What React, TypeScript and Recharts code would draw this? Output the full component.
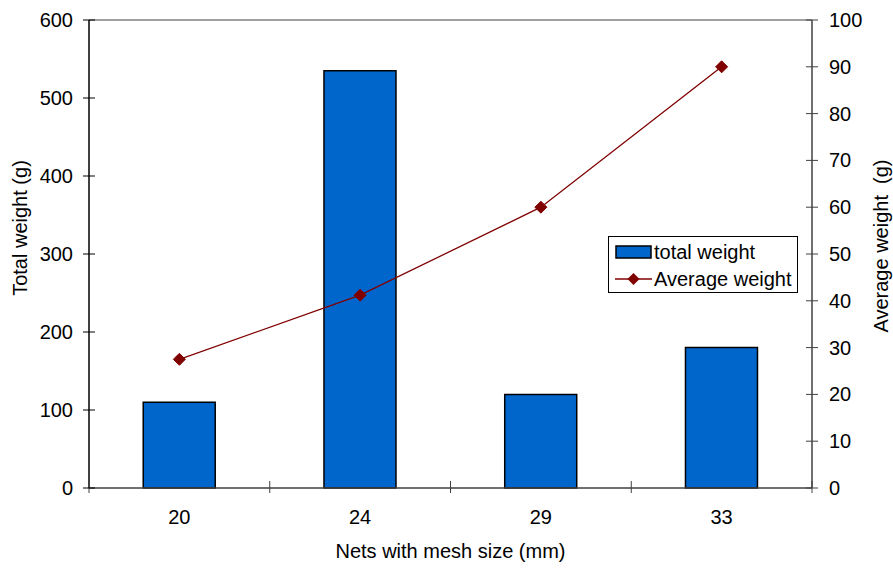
import React from 'react';
import { ComposedChart, Bar, Line, XAxis, YAxis, Legend, ReferenceLine, Label } from 'recharts';

const categories = ['20', '24', '29', '33'];
const totalWeight = [110, 535, 120, 180];
const averageWeight = [27.5, 41.2, 60, 90];
const leftTicks = [0, 100, 200, 300, 400, 500, 600];
const rightTicks = [0, 10, 20, 30, 40, 50, 60, 70, 80, 90, 100];

const data = categories.map((c, i) => ({ mesh: c, total: totalWeight[i], avg: averageWeight[i] }));

const FONT = '"Liberation Sans", Arial, sans-serif';
const FS = 20;
const BAR_COLOR = '#0066CC';
const LINE_COLOR = '#800000';

const LeftTick = (props: any) => {
  const { x, y, payload } = props;
  return (
    <g>
      <line x1={x - 6} x2={x + 6} y1={y} y2={y} stroke="#000" strokeWidth={1} />
      <text x={x - 16} y={y} textAnchor="end" dominantBaseline="central" fontFamily={FONT} fontSize={FS} fill="#000">
        {payload.value}
      </text>
    </g>
  );
};

const RightTick = (props: any) => {
  const { x, y, payload } = props;
  return (
    <g>
      <line x1={x - 6} x2={x + 6} y1={y} y2={y} stroke="#404040" strokeWidth={1} />
      <text x={x + 17} y={y} textAnchor="start" dominantBaseline="central" fontFamily={FONT} fontSize={FS} fill="#000">
        {payload.value}
      </text>
    </g>
  );
};

const XTick = (props: any) => {
  const { x, y, payload, index, visibleTicksCount } = props;
  const half = payload && typeof payload.offset === 'number' && payload.offset > 0 ? payload.offset : 90.375;
  const isLast = index === (visibleTicksCount ?? categories.length) - 1;
  return (
    <g>
      <line x1={x - half} x2={x - half} y1={y - 7} y2={y + 5} stroke="#404040" strokeWidth={1} />
      {isLast && <line x1={x + half} x2={x + half} y1={y - 7} y2={y + 5} stroke="#404040" strokeWidth={1} />}
      <text x={x} y={y + 29} textAnchor="middle" dominantBaseline="central" fontFamily={FONT} fontSize={FS} fill="#000">
        {payload.value}
      </text>
    </g>
  );
};

const Diamond = (props: any) => {
  const { cx, cy } = props;
  if (cx == null || cy == null) return null;
  const r = 6;
  return (
    <polygon
      points={`${cx},${cy - r} ${cx + r},${cy} ${cx},${cy + r} ${cx - r},${cy}`}
      fill={LINE_COLOR}
      stroke={LINE_COLOR}
      strokeWidth={1}
    />
  );
};

const LegendContent = () => (
  <div
    style={{
      width: 188,
      height: 55,
      border: '1px solid #000',
      background: '#fff',
      fontFamily: FONT,
      fontSize: FS,
      color: '#000',
      boxSizing: 'content-box',
      position: 'relative',
    }}
  >
    <div style={{ position: 'absolute', left: 6, top: 3, height: 24, display: 'flex', alignItems: 'center' }}>
      <svg width={37} height={14} style={{ display: 'block' }}>
        <rect x={1} y={1} width={35} height={12} fill={BAR_COLOR} stroke="#000" strokeWidth={1.5} />
      </svg>
      <span style={{ marginLeft: 2, whiteSpace: 'nowrap' }}>total weight</span>
    </div>
    <div style={{ position: 'absolute', left: 6, top: 30, height: 24, display: 'flex', alignItems: 'center' }}>
      <svg width={37} height={14} style={{ display: 'block' }}>
        <line x1={0} x2={37} y1={7} y2={7} stroke={LINE_COLOR} strokeWidth={1.5} />
        <polygon points="18.5,1 24.5,7 18.5,13 12.5,7" fill={LINE_COLOR} />
      </svg>
      <span style={{ marginLeft: 2, whiteSpace: 'nowrap' }}>Average weight</span>
    </div>
  </div>
);

const LeftLabel = (props: any) => {
  const vb = props.viewBox || { x: 0, y: 20, width: 89, height: 468 };
  const cx = vb.x + 20;
  const cy = vb.y + 208;
  return (
    <text x={cx} y={cy} transform={`rotate(-90 ${cx} ${cy})`} textAnchor="middle" dominantBaseline="central" fontFamily={FONT} fontSize={FS} fill="#000">
      Total weight (g)
    </text>
  );
};

const RightLabel = (props: any) => {
  const vb = props.viewBox || { x: 812, y: 20, width: 81, height: 468 };
  const cx = vb.x + 69;
  const cy = vb.y + 226;
  return (
    <text x={cx} y={cy} transform={`rotate(-90 ${cx} ${cy})`} textAnchor="middle" dominantBaseline="central" fontFamily={FONT} fontSize={FS} fill="#000" style={{ whiteSpace: 'pre' }}>
      {'Average weight\u00A0 (g)'}
    </text>
  );
};

const BottomLabel = (props: any) => {
  const vb = props.viewBox || { x: 89, y: 488, width: 723, height: 80 };
  const cx = vb.x + vb.width / 2;
  const cy = vb.y + 63;
  return (
    <text x={cx} y={cy} textAnchor="middle" dominantBaseline="central" fontFamily={FONT} fontSize={FS} fill="#000">
      Nets with mesh size (mm)
    </text>
  );
};

export default function App() {
  return (
    <div style={{ position: 'absolute', left: 0, top: 0, width: 893, height: 568, background: '#fff' }}>
      <ComposedChart
        width={893}
        height={568}
        data={data}
        margin={{ top: 20, right: 0, bottom: 0, left: 0 }}
        barCategoryGap="30%"
      >
        <XAxis
          dataKey="mesh"
          height={80}
          interval={0}
          tickSize={0}
          tickMargin={0}
          tickLine={false}
          axisLine={{ stroke: '#404040', strokeWidth: 1.5 }}
          tick={<XTick />}
        >
          <Label content={<BottomLabel />} />
        </XAxis>
        <YAxis
          yAxisId="left"
          width={89}
          domain={[0, 600]}
          ticks={leftTicks}
          interval={0}
          tickSize={0}
          tickMargin={0}
          tickLine={false}
          axisLine={{ stroke: '#000', strokeWidth: 1.5 }}
          tick={<LeftTick />}
        >
          <Label content={<LeftLabel />} />
        </YAxis>
        <YAxis
          yAxisId="right"
          orientation="right"
          width={81}
          domain={[0, 100]}
          ticks={rightTicks}
          interval={0}
          tickSize={0}
          tickMargin={0}
          tickLine={false}
          axisLine={{ stroke: '#404040', strokeWidth: 1.5 }}
          tick={<RightTick />}
        >
          <Label content={<RightLabel />} />
        </YAxis>
        <ReferenceLine yAxisId="left" y={600} stroke="#808080" strokeWidth={1.5} />
        <Bar
          yAxisId="left"
          dataKey="total"
          name="total weight"
          fill={BAR_COLOR}
          stroke="#000"
          strokeWidth={1.5}
          isAnimationActive={false}
        />
        <Line
          yAxisId="right"
          dataKey="avg"
          name="Average weight"
          type="linear"
          stroke={LINE_COLOR}
          strokeWidth={1.3}
          dot={<Diamond />}
          activeDot={false}
          isAnimationActive={false}
        />
        <Legend
          layout="vertical"
          align="center"
          verticalAlign="middle"
          content={<LegendContent />}
          wrapperStyle={{ left: 608, top: 236, width: 190, height: 57 }}
        />
      </ComposedChart>
    </div>
  );
}
